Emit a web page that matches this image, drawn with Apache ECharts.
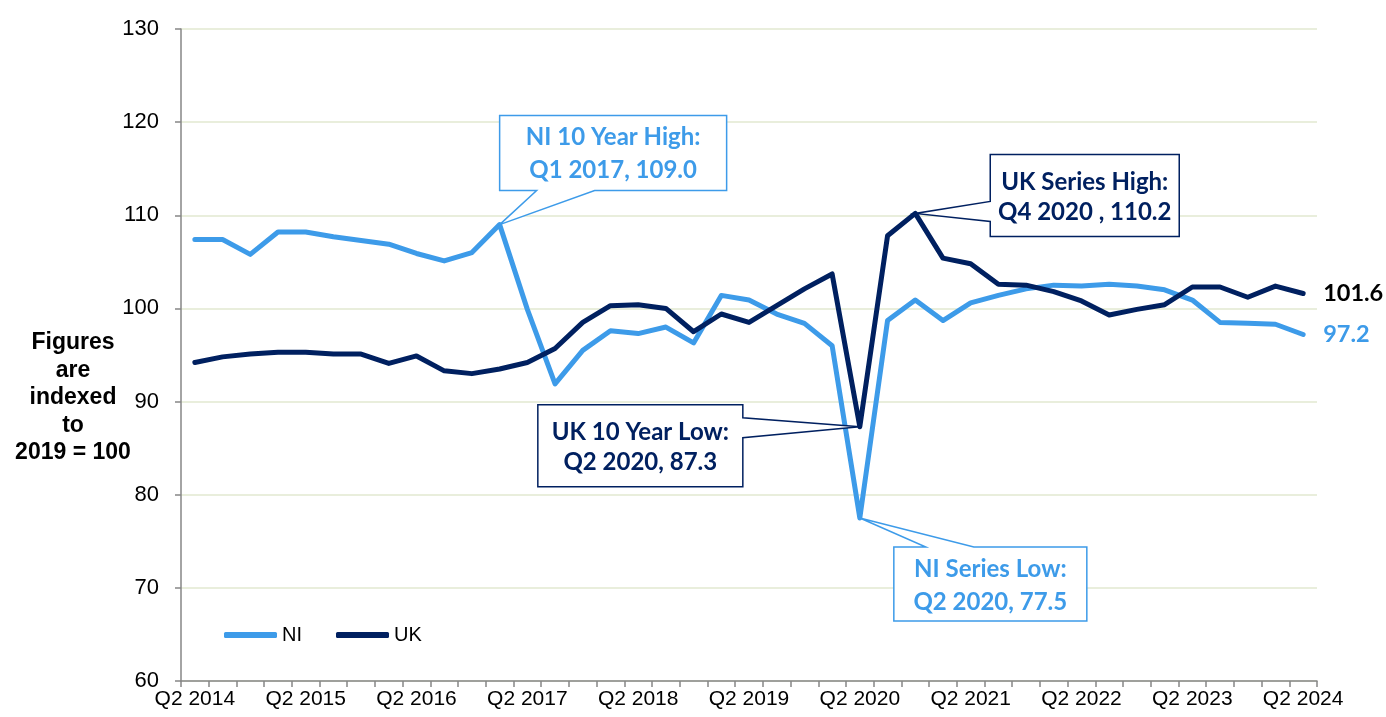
<!DOCTYPE html>
<html><head><meta charset="utf-8">
<script src="https://cdn.jsdelivr.net/npm/echarts@6/dist/echarts.min.js"></script>
<style>html,body{margin:0;padding:0;background:#fff}#c{width:1386px;height:717px}</style>
</head><body><div id="c"></div>
<script>
const categories = [
 'Q2 2014','Q3 2014','Q4 2014','Q1 2015','Q2 2015','Q3 2015','Q4 2015','Q1 2016',
 'Q2 2016','Q3 2016','Q4 2016','Q1 2017','Q2 2017','Q3 2017','Q4 2017','Q1 2018',
 'Q2 2018','Q3 2018','Q4 2018','Q1 2019','Q2 2019','Q3 2019','Q4 2019','Q1 2020',
 'Q2 2020','Q3 2020','Q4 2020','Q1 2021','Q2 2021','Q3 2021','Q4 2021','Q1 2022',
 'Q2 2022','Q3 2022','Q4 2022','Q1 2023','Q2 2023','Q3 2023','Q4 2023','Q1 2024',
 'Q2 2024'
];
const niValues = [
 107.4,107.4,105.8,108.2,108.2,107.7,107.3,106.9,
 105.9,105.1,106.0,109.0,99.9,91.9,95.5,97.6,
 97.3,98.0,96.3,101.4,100.9,99.4,98.4,96.0,
 77.5,98.7,100.9,98.7,100.6,101.4,102.1,102.5,
 102.4,102.6,102.4,102.0,100.9,98.5,98.4,98.3,
 97.2
];
const ukValues = [
 94.2,94.8,95.1,95.3,95.3,95.1,95.1,94.1,
 94.9,93.3,93.0,93.5,94.2,95.7,98.5,100.3,
 100.4,100.0,97.5,99.4,98.5,100.3,102.1,103.7,
 87.3,107.8,110.2,105.4,104.8,102.6,102.5,101.8,
 100.8,99.3,99.9,100.4,102.3,102.3,101.2,102.4,
 101.6
];
const yTicks = { min: 60, max: 130, interval: 10 };
const yTitle = ['Figures','are','indexed','to','2019 = 100'];
const annotations = [
 { series: 0, index: 11, lines: ['NI 10 Year High:', 'Q1 2017, 109.0'] },
 { series: 1, index: 24, lines: ['UK 10 Year Low:', 'Q2 2020, 87.3'] },
 { series: 0, index: 24, lines: ['NI Series Low:', 'Q2 2020, 77.5'] },
 { series: 1, index: 26, lines: ['UK Series High:', 'Q4 2020 , 110.2'] }
];
// layout of callout boxes relative to their data point (pixels)
const calloutLayout = [
 { dx: 0, dy: -109, w: 227, h: 75, side: 'bottom', a: 37, b: 95, lh: 33, ty: 1 },
 { dx: -322, dy: -22, w: 205, h: 82, side: 'right', a: 13, b: 33, lh: 30, ty: 2 },
 { dx: 34, dy: 29, w: 193, h: 74, side: 'top', a: 32, b: 80, lh: 33, ty: 1.5 },
 { dx: 75, dy: -59, w: 189, h: 82, side: 'left', a: 47, b: 67, lh: 30, ty: 2 }
];
const NI_COLOR = '#3d9be9';
const UK_COLOR = '#002060';
const seriesColors = [NI_COLOR, UK_COLOR];
const AX = 'Liberation Sans, Arial, sans-serif';
const CALLOUT_FONT = 'Lato, "Open Sans", sans-serif';

const chart = echarts.init(document.getElementById('c'), null, { renderer: 'canvas' });
const lineSeries = (name, data, color, labelColor) => ({
  name, type: 'line', data, symbol: 'none', smooth: false,
  lineStyle: { color, width: 5, cap: 'round', join: 'round' },
  itemStyle: { color },
  emphasis: { disabled: true },
  endLabel: {
    show: true, formatter: p => p.value.toFixed(1), distance: 20,
    color: labelColor, fontFamily: CALLOUT_FONT, fontWeight: 'bold', fontSize: 23.5
  }
});
chart.setOption({
  animation: false,
  grid: { left: 181, right: 69, top: 29, bottom: 36, containLabel: false, outerBoundsMode: 'none' },
  legend: {
    left: 219, top: 620, icon: 'roundRect', itemWidth: 53, itemHeight: 6, itemGap: 34,
    textStyle: { fontSize: 20, color: '#000', fontFamily: AX },
    data: ['NI', 'UK']
  },
  xAxis: {
    type: 'category', data: categories, boundaryGap: true,
    axisLine: { lineStyle: { color: '#868686', width: 1.5 } },
    axisTick: { show: true, interval: 0, length: 6, lineStyle: { color: '#868686', width: 1.5 } },
    axisLabel: { interval: 3, fontSize: 21, color: '#000', fontFamily: AX, margin: 8 },
    splitLine: { show: false }
  },
  yAxis: {
    type: 'value', min: yTicks.min, max: yTicks.max, interval: yTicks.interval,
    axisLine: { show: true, lineStyle: { color: '#868686', width: 1.5 } },
    axisTick: { show: true, length: 6, lineStyle: { color: '#868686', width: 1.5 } },
    axisLabel: { fontSize: 22, color: '#000', fontFamily: AX, margin: 22 },
    splitLine: { show: true, lineStyle: { color: '#e2e9d0', width: 1.5 } }
  },
  series: [
    lineSeries('NI', niValues, NI_COLOR, NI_COLOR),
    lineSeries('UK', ukValues, UK_COLOR, '#000')
  ]
});

function buildGraphics() {
  const g = [];
  g.push({
    type: 'text', z: 100,
    style: {
      text: yTitle.join('\n'), x: 73, y: 398, align: 'center', verticalAlign: 'middle',
      font: 'bold 23px ' + AX, fill: '#000', lineHeight: 27.5
    }
  });
  annotations.forEach((an, i) => {
    const L = calloutLayout[i];
    const val = an.series === 0 ? niValues[an.index] : ukValues[an.index];
    const tip = chart.convertToPixel({ seriesIndex: an.series }, [an.index, val]);
    const x0 = tip[0] + L.dx, y0 = tip[1] + L.dy, x1 = x0 + L.w, y1 = y0 + L.h;
    let pts;
    if (L.side === 'bottom') pts = [[x0,y0],[x1,y0],[x1,y1],[x0+L.b,y1],tip,[x0+L.a,y1],[x0,y1]];
    else if (L.side === 'top') pts = [[x0,y0],[x0+L.a,y0],tip,[x0+L.b,y0],[x1,y0],[x1,y1],[x0,y1]];
    else if (L.side === 'right') pts = [[x0,y0],[x1,y0],[x1,y0+L.a],tip,[x1,y0+L.b],[x1,y1],[x0,y1]];
    else pts = [[x0,y0],[x1,y0],[x1,y1],[x0,y1],[x0,y0+L.b],tip,[x0,y0+L.a]];
    const color = seriesColors[an.series];
    g.push({
      type: 'polygon', z: 90, shape: { points: pts },
      style: { fill: '#fff', stroke: color, lineWidth: 1.5, lineJoin: 'miter' }
    });
    g.push({
      type: 'text', z: 91,
      style: {
        text: an.lines.join('\n'), x: (x0 + x1) / 2, y: (y0 + y1) / 2 + L.ty,
        align: 'center', verticalAlign: 'middle',
        font: 'bold 24px ' + CALLOUT_FONT, fill: color, lineHeight: L.lh
      }
    });
  });
  return g;
}
chart.setOption({ graphic: buildGraphics() });
</script>
</body></html>
